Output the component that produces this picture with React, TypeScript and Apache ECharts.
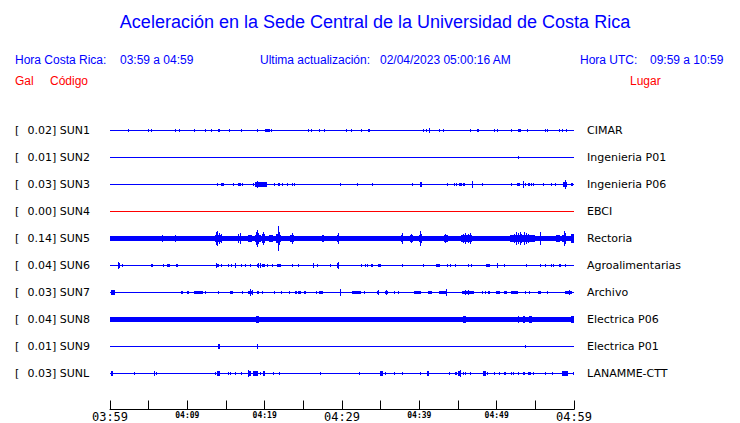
import React, { useEffect, useRef } from "react";
import * as echarts from "echarts";

// ---- data ----
const codes = ["SUN1", "SUN2", "SUN3", "SUN4", "SUN5", "SUN6", "SUN7", "SUN8", "SUN9", "SUNL"];
const places = ["CIMAR", "Ingenieria P01", "Ingenieria P06", "EBCI", "Rectoria", "Agroalimentarias", "Archivo", "Electrica P06", "Electrica P01", "LANAMME-CTT"];
const galValues = ["0.02", "0.01", "0.03", "0.00", "0.14", "0.04", "0.03", "0.04", "0.01", "0.03"];
const timeTickLabels = ["03:59", "", "04:09", "", "04:19", "", "04:29", "", "04:39", "", "04:49", "", "04:59"];
const bigTickLabels = ["03:59", "04:29", "04:59"];
// background noise half-amplitude per station
const baselineNoise = [0.5, 0.5, 0.5, 0.5, 1.7, 0.5, 0.5, 1.7, 0.5, 0.5];

// events: [minute, halfAmplitude, duration(min, optional)]
const sun1 = [[2.37,1.5],[4.96,1.5],[5.3,1],[8.45,1],[8.96,1.5],[10.9,1],[12.3,1.5],[13.1,1.5],[13.96,1.5,0.3],[15.4,1],[17.0,1.5],[19.05,1],[20.0,1.5,0.5],[20.6,1.5],[20.8,1.5],[25.6,1.5],[26.0,1.5],[27.0,1.5],[27.7,1.5],[30.5,1],[31.2,1],[32.4,1.5],[33.3,1.5],[33.5,1.5],[40.5,1],[40.8,1.5],[41.2,2.5],[42.5,1],[43.1,1.5],[46.6,1.5],[47.5,1.5,0.25],[49.6,1],[50.0,1],[51.9,1],[52.8,1.5,0.3],[53.9,1],[56.2,1.5],[56.5,1.5],[58.1,1],[58.5,1],[59.0,1.5]];
const sun2 = [[52.8,1]];
const sun3 = [[13.9,1],[14.4,1.5,0.3],[15.9,1],[16.6,1.5,0.4],[17.1,1],[18.45,1],[18.8,2,1.5],[19.05,3.5],[19.6,2],[20.1,2],[21.2,1],[21.7,1.5,0.3],[22.2,1.5],[22.9,1],[23.5,1.5],[23.8,1.5],[29.8,1],[31.9,0.8],[33.9,1],[39.0,1],[40.1,2.5,0.3],[43.6,1],[44.5,1],[44.8,1.5],[45.1,1.5,0.4],[45.6,1.5],[45.8,1],[46.8,3],[48.1,0.8],[51.9,0.8],[52.6,1.5,0.4],[53.4,3],[53.7,1.5],[54.0,1.5,0.3],[54.4,1],[54.7,1],[56.0,1.5],[57.0,1.5],[57.5,1],[58.6,2,0.5],[58.8,4],[59.6,1.5,0.3]];
const sun4: number[][] = [];
const sun5 = [[1.94,2.5],[3.79,2],[4.44,1.7],[6.25,2],[6.77,2.7],[7.11,2],[8.1,2],[8.45,3.5],[10.2,2],[11.5,2.5],[13.6,3,0.8],[13.75,6],[13.9,7],[14.1,5],[14.3,4],[14.9,2.5],[15.5,2.5],[16.0,2.5],[16.6,4],[16.75,5.5],[17.9,3,0.4],[18.2,2.5],[18.7,3,0.7],[18.9,6],[19.05,8.5],[19.2,5],[19.35,3],[19.6,4],[19.75,6],[19.9,4],[20.6,3,0.5],[20.9,3],[21.5,4,0.5],[21.75,12],[21.9,6],[22.0,3],[22.5,2.5],[23.3,3,0.4],[23.5,5],[23.7,3.5],[25.0,2],[25.3,2],[27.4,3,0.3],[29.3,3,0.3],[29.45,5],[29.7,2.5],[31.4,2.5],[31.8,2],[32.4,2],[33.3,2.5],[34.8,2.5,0.3],[36.1,2],[37.6,3.5,0.3],[37.75,5.5],[38.8,3,0.4],[38.9,4],[39.9,3,0.5],[40.05,7],[40.2,4],[43.2,3.5,0.5],[43.3,4],[45.4,3,1.4],[45.6,4.5],[45.85,5.5],[46.3,4],[46.5,5.5],[46.7,3],[47.5,2.5],[48.3,2.5],[50.2,2],[51.7,3,3.3],[52.3,4.5],[52.55,6],[52.8,5],[53.0,6.5],[53.2,4],[53.5,6.5],[53.8,5],[54.1,4],[54.4,3.5],[54.8,3],[55.6,6],[56.0,2.5],[56.9,2.5],[57.7,3,0.5],[58.4,3.5,0.5],[58.7,7],[58.85,5],[59.6,4,0.4]];
const sun6 = [[1.0,3.3],[1.1,2.5,0.2],[1.5,1.3,0.2],[5.3,1.3,0.2],[6.9,1.3],[7.4,1.3,0.3],[8.5,1.3,0.3],[13.7,2.3],[13.85,1.3,0.2],[14.35,1],[15.2,1.3],[15.6,1.3],[16.2,2.3],[17.0,1.3],[17.5,1.3],[18.1,1],[19.0,1.5],[19.2,2],[19.45,2.5],[19.6,1.5,0.3],[19.9,1.5],[20.3,1],[21.0,1],[21.6,1.3,0.5],[23.5,1],[24.3,1],[26.25,2.3],[26.8,1],[28.4,1.3],[29.4,2],[29.5,3.3],[32.4,1],[33.0,1.5],[33.2,1.3],[33.7,1.3,0.3],[34.6,1.3,0.5],[37.7,1],[40.5,1],[42.2,1.3,0.3],[42.6,1.3],[43.6,1],[44.0,1],[44.6,1],[46.3,1],[46.7,1.3],[48.6,1.3,0.5],[50.1,2],[50.9,1.3],[53.75,0.8],[55.6,1],[56.2,1.3],[57.0,1.3,0.2],[57.3,1.3],[58.0,1.3],[58.2,1],[58.8,1]];
const sun7 = [[0.1,1.7,0.5],[9.2,1],[9.35,1],[9.9,1.3,0.3],[10.9,1.3,1.1],[12.3,1],[14.0,1],[15.5,1.3,0.4],[17.1,0.8],[17.8,1.5,0.7],[18.1,2.7],[18.3,2],[19.0,1.3,0.3],[19.7,1],[21.2,0.8],[22.1,1],[23.1,0.8],[23.9,1.3,0.3],[24.3,1.3,0.4],[25.1,1.3,0.3],[26.6,0.8],[27.0,1.3,0.5],[29.8,2.7],[31.3,1.3,1.1],[32.9,1],[34.5,1.5,0.3],[34.6,2],[35.6,1.3,0.3],[35.7,2],[36.7,1],[37.3,1],[39.3,1.3,0.9],[41.1,1.3,0.5],[42.6,1.3,1.0],[43.4,2.7],[45.5,1.5,1.6],[45.9,2],[46.3,2],[48.1,1],[48.5,1],[48.9,1.3,0.2],[49.9,1.3,0.5],[50.9,1.3,0.4],[51.9,1.3,0.8],[53.7,0.8],[54.2,0.8],[55.4,1.3,0.3],[56.5,0.8],[58.8,1.3,1.0],[59.4,2]];
const sun8 = [[7.45,2],[14.6,2.5],[18.9,3,0.4],[21.5,2],[24.0,2.5],[28.1,2],[30.8,2],[35.6,2],[39.1,2.5],[44.6,2.5],[45.6,3,0.4],[47.9,2],[52.8,3.5],[53.4,3,0.3],[54.2,3,0.4],[55.3,2.3],[58.8,2.3],[59.6,2.7,0.4]];
const sun9 = [[14.0,1.7,0.2],[19.0,1.7,0.2],[53.6,0.8]];
const sunL = [[0.13,1.7,0.3],[3.15,1],[5.7,1.7],[6.0,1.3],[13.6,1],[13.9,1.7,0.3],[15.2,1.3],[15.5,1.3],[16.1,1],[17.0,1],[17.8,2.7],[17.9,1.7,0.3],[18.5,1.7,0.7],[19.4,1],[19.8,1.7,0.3],[21.1,1.3],[21.8,1.3],[27.2,1],[32.2,1.3],[34.9,1.7,0.4],[35.5,1.3],[36.7,1.3],[37.7,1],[40.1,1.3],[41.0,1.7,0.3],[43.8,0.8],[44.6,1.5,0.3],[45.0,1.7,0.2],[45.2,3],[45.6,1.5],[45.9,1],[46.5,0.8],[48.2,1.7,0.4],[48.8,1.3],[49.6,0.8],[50.3,1.3],[50.9,1.3,0.3],[51.85,0.8],[52.1,0.8],[52.7,1],[53.4,1.3,0.3],[54.1,1.3,0.3],[54.7,0.8],[56.25,0.8],[57.1,0.8],[58.4,1.7,0.5],[58.9,1.7,0.3],[59.9,1]];
const stationEvents = [sun1, sun2, sun3, sun4, sun5, sun6, sun7, sun8, sun9, sunL];

// ---- styles ----
const traceColors = ["#0000ff", "#0000ff", "#0000ff", "#ff0000", "#0000ff", "#0000ff", "#0000ff", "#0000ff", "#0000ff", "#0000ff"];
const AMP = 1 / 27; // amplitude unit in row units
const DEFAULT_DUR = 0.13;
const HEAD = "Liberation Sans, Arial, sans-serif";

export default function App() {
  const ref = useRef<HTMLDivElement>(null);
  useEffect(() => {
    if (!ref.current) return;
    const chart = echarts.init(ref.current, undefined, { renderer: "svg" });

    const baseData = baselineNoise.map((n, row) => [0, row, n, 60]);
    const eventData: number[][] = [];
    stationEvents.forEach((evs, row) => {
      evs.forEach((e) => eventData.push([e[0], row, e[1], e[2] ?? DEFAULT_DUR]));
    });

    const renderRect = (params: any, api: any) => {
      const m = api.value(0);
      const row = api.value(1);
      const amp = api.value(2);
      const dur = api.value(3);
      const p1 = api.coord([m, row - amp * AMP]);
      const p2 = api.coord([m + dur, row + amp * AMP]);
      const x0 = Math.round(p1[0]);
      const x1 = Math.max(x0 + 1, Math.round(p2[0]));
      const y0 = Math.floor(Math.min(p1[1], p2[1]) + 0.01);
      const y1 = Math.max(y0 + 1, Math.ceil(Math.max(p1[1], p2[1]) - 0.01));
      return {
        type: "rect",
        shape: { x: x0, y: y0, width: x1 - x0, height: y1 - y0 },
        style: { fill: traceColors[row] },
      };
    };

    const yCommon = {
      type: "value" as const,
      min: -1,
      max: 9 + 36 / 27,
      interval: 1,
      inverse: true,
      axisLine: { show: false },
      axisTick: { show: false },
      splitLine: { show: false },
    };

    const text = (t: string, x: number, y: number, fill: string, font: string, align = "left") => ({
      type: "text",
      x,
      y,
      silent: true,
      style: { text: t, fill, font, align, verticalAlign: "middle" },
    });

    chart.setOption({
      animation: false,
      backgroundColor: "#ffffff",
      graphic: [
        text("Aceleración en la Sede Central de la Universidad de Costa Rica", 375, 22, "#0000ff", `18px ${HEAD}`, "center"),
        text("Hora Costa Rica:", 15, 60, "#0000ff", `12px ${HEAD}`),
        text("03:59 a 04:59", 120, 60, "#0000ff", `12px ${HEAD}`),
        text("Ultima actualización:", 260, 60, "#0000ff", `12px ${HEAD}`),
        text("02/04/2023 05:00:16 AM", 380, 60, "#0000ff", `12px ${HEAD}`),
        text("Hora UTC:", 580, 60, "#0000ff", `12px ${HEAD}`),
        text("09:59 a 10:59", 650, 60, "#0000ff", `12px ${HEAD}`),
        text("Gal", 15, 81, "#ff0000", `12px ${HEAD}`),
        text("Código", 50, 81, "#ff0000", `12px ${HEAD}`),
        text("Lugar", 630, 81, "#ff0000", `12px ${HEAD}`),
      ],
      grid: { left: 110, width: 464, top: 103.5, height: 306, containLabel: false },
      xAxis: {
        type: "value",
        min: 0,
        max: 60,
        interval: 5,
        axisLine: { show: true, onZero: false, lineStyle: { color: "#000", width: 1 } },
        axisTick: { show: true, inside: true, length: 9, lineStyle: { color: "#000", width: 1 } },
        splitLine: { show: false },
        axisLabel: {
          margin: 1,
          showMinLabel: true,
          showMaxLabel: true,
          hideOverlap: false,
          formatter: (v: number) => {
            const lab = timeTickLabels[Math.round(v / 5)] || "";
            if (!lab) return "";
            return bigTickLabels.includes(lab) ? `{big|${lab}}` : `{small|${lab}}`;
          },
          rich: {
            big: { fontFamily: "DejaVu Sans Mono", fontSize: 12, color: "#000", padding: [0, 0, 0, 0] },
            small: { fontFamily: "DejaVu Sans Mono", fontSize: 8, fontWeight: "bold", color: "#000", padding: [1, 0, 0, 0] },
          },
        },
      },
      yAxis: [
        {
          ...yCommon,
          position: "left",
          axisLabel: {
            align: "left",
            margin: 95,
            showMaxLabel: false,
            formatter: (v: number) => {
              if (v < 0 || v > 9 || Math.round(v) !== v) return "";
              return `{b|[}{t|${galValues[v]}] ${codes[v]}}`;
            },
            rich: {
              b: { width: 12.5, fontFamily: "DejaVu Sans", fontSize: 11, color: "#000" },
              t: { fontFamily: "DejaVu Sans", fontSize: 11, color: "#000" },
            },
          },
        },
        {
          ...yCommon,
          position: "right",
          axisLabel: {
            align: "left",
            margin: 13,
            showMaxLabel: false,
            fontFamily: "DejaVu Sans",
            fontSize: 11,
            color: "#000",
            formatter: (v: number) => {
              if (v < 0 || v > 9 || Math.round(v) !== v) return "";
              return places[v];
            },
          },
        },
      ],
      series: [
        {
          type: "custom",
          name: "baseline",
          xAxisIndex: 0,
          yAxisIndex: 0,
          clip: false,
          silent: true,
          encode: { x: 0, y: 1 },
          renderItem: renderRect,
          data: baseData,
        },
        {
          type: "custom",
          name: "events",
          xAxisIndex: 0,
          yAxisIndex: 0,
          clip: false,
          silent: true,
          encode: { x: 0, y: 1 },
          renderItem: renderRect,
          data: eventData,
        },
      ],
    });
    return () => chart.dispose();
  }, []);
  return <div ref={ref} style={{ position: "fixed", left: 0, top: 0, width: 740, height: 423 }} />;
}
